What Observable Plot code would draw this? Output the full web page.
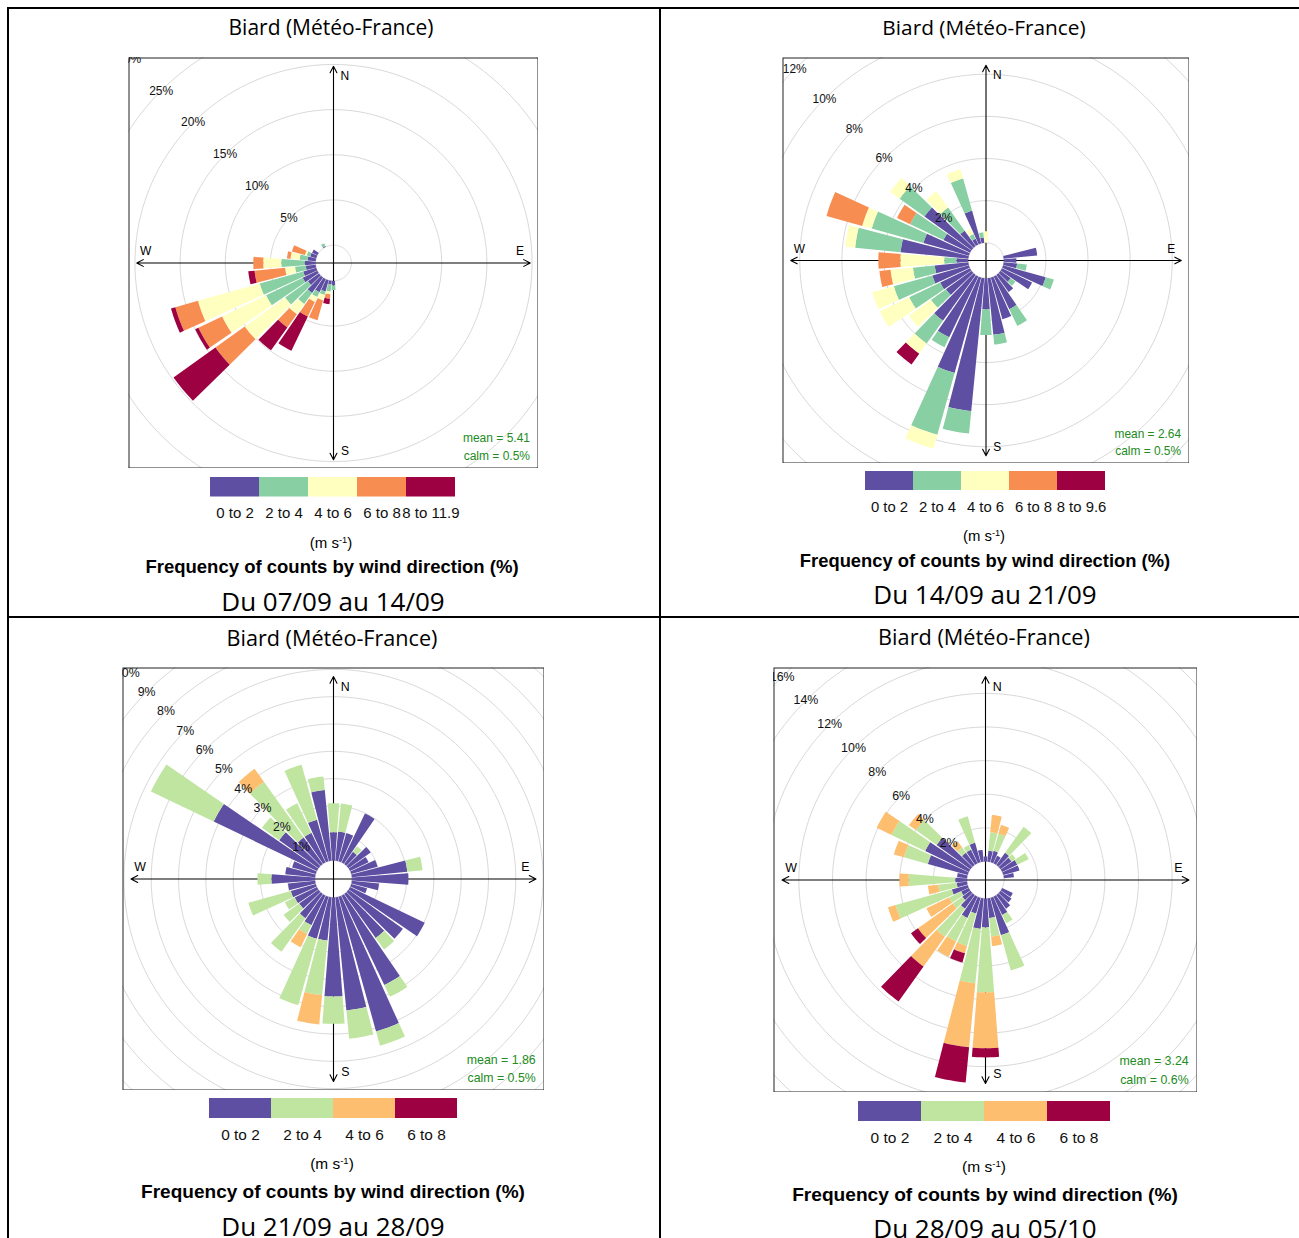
<!DOCTYPE html>
<html><head><meta charset="utf-8">
<script src="https://cdn.jsdelivr.net/npm/d3@7"></script>
<script src="https://cdn.jsdelivr.net/npm/@observablehq/plot@0.6"></script>
<style>
html,body{margin:0;padding:0;background:#fff;}
#page{position:relative;width:1299px;height:1238px;overflow:hidden;background:#fff;}
.t{position:absolute;white-space:nowrap;transform:translateX(-50%);line-height:1;color:#000;}
.rule{position:absolute;background:#000;}
.box{position:absolute;overflow:hidden;}
.leg{position:absolute;}
sup{font-size:0.62em;position:relative;top:-0.5em;vertical-align:baseline;}
</style></head><body><div id="page"></div>
<script>
// ---------- data ----------
const titles = ["Biard (Météo-France)", "Biard (Météo-France)", "Biard (Météo-France)", "Biard (Météo-France)"];
const dates = ["Du 07/09 au 14/09", "Du 14/09 au 21/09", "Du 21/09 au 28/09", "Du 28/09 au 05/10"];
const means = ["5.41", "2.64", "1.86", "3.24"];
const calms = ["0.5", "0.5", "0.5", "0.6"];
const gridSteps = [5, 2, 1, 2];

const labels1 = ["0 to 2", "2 to 4", "4 to 6", "6 to 8", "8 to 11.9"];
const labels2 = ["0 to 2", "2 to 4", "4 to 6", "6 to 8", "8 to 9.6"];
const labels34 = ["0 to 2", "2 to 4", "4 to 6", "6 to 8"];
const colors5 = ["#5E4FA2", "#88CFA4", "#FFFFBF", "#F88D52", "#9E0142"];
const colors4 = ["#5E4FA2", "#BFE5A0", "#FDBF6F", "#9E0142"];

// Panel 1 : 07/09 - 14/09 (frequency %, by speed bin)
const p1Dir = [180, 190, 200, 210, 220, 230, 240, 250, 260, 270, 280, 290, 300, 330];
const p1S1 = [0.5, 0.4, 1.3, 1.6, 2.1, 1.5, 1.8, 1.5, 1.1, 1.2, 0.9, 0.7, 0.65, 0.1];
const p1S2 = [0.5, 0.8, 0.4, 0.6, 1.5, 3.1, 4.5, 5.0, 1.2, 2.6, 0.9, 0.4, 0, 0.35];
const p1S3 = [0, 0.3, 0.6, 0.6, 1.4, 5.5, 5.4, 7.1, 1.1, 2.0, 1.0, 0.2, 0, 0];
const p1S4 = [0, 0.5, 2.3, 1.8, 1.8, 4.0, 2.9, 2.6, 3.4, 1.1, 0.4, 1.5, 0, 0];
const p1S5 = [0, 0.6, 0, 4.2, 3.1, 5.7, 0.4, 0.5, 0.7, 0, 0, 0, 0, 0];

// Panel 2 : 14/09 - 21/09
const p2Dir = [80, 90, 100, 110, 120, 130, 140, 150, 160, 170, 180, 190, 200, 210, 220, 230, 240, 250, 260, 270, 280, 290, 300, 310, 320, 330, 340, 350, 360];
const p2S1 = [1.6, 0.6, 0.64, 2.1, 1.58, 0.6, 1.0, 1.72, 2.05, 2.7, 1.47, 6.34, 4.7, 3.2, 2.67, 1.5, 1.57, 1.8, 1.6, 0.56, 3.23, 2.24, 1.4, 2.75, 0.9, 0.3, 1.61, 0.25, 0];
const p2S2 = [0, 0, 0.46, 0.4, 0, 0.27, 0, 0.88, 0, 0.47, 1.23, 1.07, 3.05, 0.52, 1.33, 0.87, 1.63, 1.9, 1.04, 0.58, 2.17, 2.55, 1.75, 1.45, 1.35, 0.25, 1.59, 0.25, 0];
const p2S3 = [0, 0, 0, 0, 0, 0, 0, 0, 0, 0, 0, 0, 0.68, 0, 0.6, 1.29, 1.55, 1.06, 1.07, 2.08, 0.47, 0.47, 0, 0.56, 0.95, 0.27, 0.46, 0, 0.55];
const p2S4 = [0, 0, 0, 0, 0, 0, 0, 0, 0, 0, 0, 0, 0, 0, 0, 0, 0, 0, 0.53, 1.05, 0, 1.76, 0.69, 0, 0, 0, 0, 0, 0];
const p2S5 = [0, 0, 0, 0, 0, 0, 0, 0, 0, 0, 0, 0, 0, 0, 0.63, 0, 0, 0, 0, 0, 0, 0, 0, 0, 0, 0, 0, 0, 0];

// Panel 3 : 21/09 - 28/09
const p3Dir = [10, 20, 30, 40, 50, 60, 70, 80, 90, 100, 110, 120, 130, 140, 150, 160, 170, 180, 190, 200, 210, 220, 230, 240, 250, 260, 270, 280, 290, 300, 310, 320, 330, 340, 350, 360];
const p3S1 = [1.07, 1.07, 1.99, 0.55, 1.0, 0.75, 1.0, 2.04, 2.07, 1.0, 0.6, 3.03, 2.45, 1.98, 3.63, 5.12, 4.16, 3.63, 1.59, 1.6, 1.2, 1.09, 0.87, 0.9, 0.95, 1.0, 1.6, 1.1, 0.9, 4.19, 1.77, 1.2, 1.2, 1.58, 2.6, 1.04];
const p3S2 = [1.03, 0, 0, 0.25, 0, 0, 0, 0.56, 0, 0, 0, 0, 0, 0.52, 0.48, 0.54, 1.04, 1.0, 2.01, 2.52, 0.36, 1.51, 0.7, 0.4, 1.61, 0, 0.51, 0, 0, 2.55, 0.78, 2.5, 1.2, 2.09, 0.5, 1.06];
const p3S3 = [0, 0, 0, 0, 0, 0, 0, 0, 0, 0, 0, 0, 0, 0, 0, 0, 0, 0, 1.08, 0, 0.54, 0, 0, 0, 0, 0, 0, 0, 0, 0, 0, 0.59, 0, 0, 0, 0];
const p3S4 = [0, 0, 0, 0, 0, 0, 0, 0, 0, 0, 0, 0, 0, 0, 0, 0, 0, 0, 0, 0, 0, 0, 0, 0, 0, 0, 0, 0, 0, 0, 0, 0, 0, 0, 0, 0];

// Panel 4 : 28/09 - 05/10
const p4Dir = [10, 20, 30, 40, 50, 60, 70, 80, 120, 130, 140, 150, 160, 170, 180, 190, 200, 210, 220, 230, 240, 250, 260, 270, 280, 290, 300, 310, 320, 330, 340, 350, 360];
const p4S1 = [0.65, 0.7, 0.5, 0.9, 0.8, 1.0, 1.0, 0.6, 0.7, 0.8, 1.0, 1.2, 2.3, 1.17, 1.72, 1.82, 0.97, 1.4, 1.0, 0.6, 0.5, 0.98, 0.62, 0.7, 0.6, 2.46, 2.88, 2.48, 0.9, 0.9, 1.2, 0.7, 0.3];
const p4S2 = [1.11, 1.06, 0, 1.89, 0.3, 0.75, 0, 0, 0, 0, 0, 0.55, 2.19, 1.11, 3.86, 3.25, 2.0, 1.55, 2.05, 0.7, 0.8, 3.47, 1.1, 2.77, 0, 1.48, 2.22, 1.52, 0.38, 0.3, 1.63, 0, 0];
const p4S3 = [1.03, 0.54, 0, 0, 0, 0, 0, 0, 0, 0, 0, 0, 0, 0.57, 3.33, 3.83, 0.46, 1.03, 2.18, 2.54, 1.5, 0.47, 0.62, 0.55, 0, 0.62, 0.98, 0.5, 0.48, 0, 0, 0, 0];
const p4S4 = [0, 0, 0, 0, 0, 0, 0, 0, 0, 0, 0, 0, 0, 0, 0.54, 2.1, 0.57, 0, 2.55, 0.51, 0, 0, 0, 0, 0, 0, 0, 0, 0, 0, 0, 0, 0];

// ---------- layout ----------
const layout = [
  {box: {x: 128, y: 57, w: 410, h: 411}, leg: {x: 210, y: 477, w: 245, h: 19.5}, cx: 331, titleY: 28, labY: 512, unitY: 542, freqY: 567.5, dateX: 333, dateY: 602},
  {box: {x: 782, y: 57, w: 407, h: 406}, leg: {x: 864, y: 471, w: 242, h: 19}, cx: 984, titleY: 28, labY: 506.5, unitY: 536, freqY: 561, dateX: 985, dateY: 595},
  {box: {x: 122, y: 667, w: 422, h: 423}, leg: {x: 207, y: 1098, w: 251, h: 20}, cx: 332, titleY: 638, labY: 1134.5, unitY: 1163.5, freqY: 1191, dateX: 333, dateY: 1227},
  {box: {x: 773, y: 667, w: 424, h: 425}, leg: {x: 858, y: 1101, w: 252, h: 20}, cx: 984, titleY: 638, labY: 1137.5, unitY: 1166.5, freqY: 1194, dateX: 985, dateY: 1229}
];

const panels = [
  {dirs: p1Dir, series: [p1S1, p1S2, p1S3, p1S4, p1S5], labels: labels1, colors: colors5},
  {dirs: p2Dir, series: [p2S1, p2S2, p2S3, p2S4, p2S5], labels: labels2, colors: colors5},
  {dirs: p3Dir, series: [p3S1, p3S2, p3S3, p3S4], labels: labels34, colors: colors4},
  {dirs: p4Dir, series: [p4S1, p4S2, p4S3, p4S4], labels: labels34, colors: colors4}
];

const FONT_R = "Liberation Sans, Arial, sans-serif";
const FONT_W = "Open Sans, sans-serif";
const page = document.getElementById("page");

function rule(x, y, w, h) {
  const d = document.createElement("div");
  d.className = "rule";
  Object.assign(d.style, {left: x + "px", top: y + "px", width: w + "px", height: h + "px"});
  page.appendChild(d);
}
function text(html, x, yc, size, family, weight, capRatio) {
  const d = document.createElement("div");
  d.className = "t";
  d.innerHTML = html;
  Object.assign(d.style, {left: x + "px", top: (yc - capRatio * size) + "px", fontSize: size + "px", fontFamily: family, fontWeight: weight || "normal"});
  page.appendChild(d);
}

function rosePlot(p, L, k) {
  const {dirs, series, labels, colors} = p;
  const W = L.box.w, H = L.box.h, s = W / 410;
  const totals = dirs.map((_, i) => d3.sum(series, ser => ser[i]));
  const maxF = d3.max(totals);
  const off = maxF * 0.1, upper = maxF + off;
  const hx = upper * 1.042, hy = hx * H / W;
  const pxPerUnit = (W / 2) / hx;
  const deg = Math.PI / 180;
  const wedges = [];
  dirs.forEach((d, i) => {
    let cum = 0;
    series.forEach((ser, j) => {
      const v = ser[i];
      if (v > 0) {
        const id = d + "-" + j, r1 = off + cum, r2 = off + cum + v, N = 6;
        for (let t = 0; t <= N; t++) { const a = (d - 4.4 + 8.8 * t / N) * deg; wedges.push({id, bin: labels[j], x: r1 * Math.sin(a), y: r1 * Math.cos(a)}); }
        for (let t = N; t >= 0; t--) { const a = (d - 4.4 + 8.8 * t / N) * deg; wedges.push({id, bin: labels[j], x: r2 * Math.sin(a), y: r2 * Math.cos(a)}); }
      }
      cum += v;
    });
  });
  const step = gridSteps[k];
  const ticks = d3.range(0, 2 * maxF + step, step);
  const circles = [];
  ticks.forEach(t => { for (let a = 0; a <= 360; a += 2) circles.push({t, x: (off + t) * Math.sin(a * deg), y: (off + t) * Math.cos(a * deg)}); });
  // keep only the ring labels that are (at least partly) inside the box
  const tickLabels = ticks.filter(t => t > 0)
    .map(t => ({t, x: -(off + t) * Math.SQRT1_2, y: (off + t) * Math.SQRT1_2}))
    .filter(d => Math.abs(d.x) * pxPerUnit < W / 2 + 4);
  const axes = [{x2: upper, y2: 0}, {x2: -upper, y2: 0}, {x2: 0, y2: upper}, {x2: 0, y2: -upper}];
  const compass = [
    {l: "N", x: 0.058 * upper, y: 0.95 * upper}, {l: "S", x: 0.058 * upper, y: -0.955 * upper},
    {l: "W", x: -0.955 * upper, y: 0.06 * upper}, {l: "E", x: 0.948 * upper, y: 0.06 * upper}
  ];
  return Plot.plot({
    width: W, height: H, margin: 0,
    x: {domain: [-hx, hx], axis: null},
    y: {domain: [-hy, hy], axis: null},
    color: {domain: labels, range: colors},
    style: {fontFamily: FONT_R, background: "white", overflow: "hidden"},
    marks: [
      Plot.line(circles, {x: "x", y: "y", z: "t", stroke: "#d9d9d9", strokeWidth: 1}),
      Plot.arrow(axes, {x1: () => 0, y1: () => 0, x2: "x2", y2: "y2", stroke: "black", strokeWidth: 1.1, headLength: 10 * s, headAngle: 55}),
      Plot.text(compass, {x: "x", y: "y", text: "l", fontSize: 12 * s, fill: "black"}),
      Plot.line(wedges, {x: "x", y: "y", z: "id", fill: "bin", stroke: "none", curve: "linear-closed"}),
      Plot.text(tickLabels, {x: "x", y: "y", text: d => d.t + "%", fontSize: 12 * s, fill: "#111"}),
      Plot.text([`mean = ${means[k]}`], {frameAnchor: "bottom-right", text: d => d, dx: -8.5 * s, dy: -30 * s, textAnchor: "end", lineAnchor: "middle", fill: "forestgreen", fontSize: 12 * s}),
      Plot.text([`calm = ${calms[k]}%`], {frameAnchor: "bottom-right", text: d => d, dx: -8.5 * s, dy: -12 * s, textAnchor: "end", lineAnchor: "middle", fill: "forestgreen", fontSize: 12 * s}),
      Plot.frame({stroke: "#222", strokeWidth: 1, inset: 0.5})
    ]
  });
}

function legendPlot(p, L) {
  const s = L.box.w / 410, fs = 15 * s;
  const pad = L.labY - (L.leg.y + L.leg.h) - 0.36 * fs;
  return Plot.plot({
    width: L.leg.w, height: L.leg.h + 34, marginTop: 0, marginBottom: 34, marginLeft: 0, marginRight: 0,
    x: {type: "band", domain: p.labels, padding: 0, tickSize: 0, tickPadding: pad, label: null},
    color: {domain: p.labels, range: p.colors},
    style: {fontFamily: FONT_R, fontSize: fs + "px", overflow: "visible", background: "transparent", color: "#111"},
    marks: [Plot.cell(p.labels, {x: d => d, fill: d => d, inset: 0})]
  });
}

// table rules
rule(7, 7, 1292, 1.6);
rule(7, 7, 2, 1231);
rule(659, 7, 2, 1231);
rule(7, 616, 1292, 1.6);

panels.forEach((p, k) => {
  const L = layout[k], s = L.box.w / 410;
  const box = document.createElement("div");
  box.className = "box";
  Object.assign(box.style, {left: L.box.x + "px", top: L.box.y + "px", width: L.box.w + "px", height: L.box.h + "px"});
  box.appendChild(rosePlot(p, L, k));
  page.appendChild(box);

  const leg = document.createElement("div");
  leg.className = "leg";
  Object.assign(leg.style, {left: L.leg.x + "px", top: L.leg.y + "px"});
  leg.appendChild(legendPlot(p, L));
  page.appendChild(leg);

  text(titles[k], L.cx, L.titleY, 21 * s, FONT_W, "normal", 0.53);
  text("(m s<sup>-1</sup>)", L.cx, L.unitY, 15 * s, FONT_R, "normal", 0.49);
  text("Frequency of counts by wind direction (%)", L.cx + 1, L.freqY, 18.5 * s, FONT_R, "bold", 0.49);
  text(dates[k], L.dateX, L.dateY, 26, FONT_W, "normal", 0.53);
});
</script></body></html>
